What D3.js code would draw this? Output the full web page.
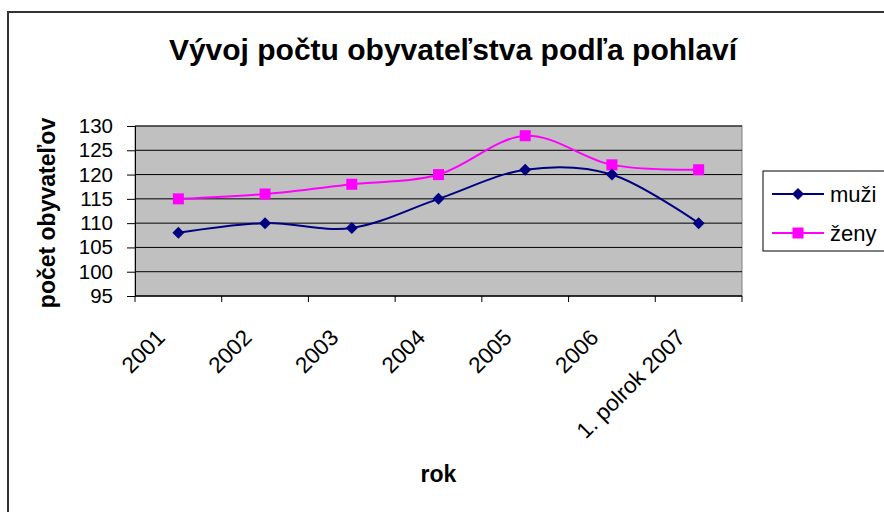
<!DOCTYPE html>
<html>
<head>
<meta charset="utf-8">
<script src="https://cdn.jsdelivr.net/npm/d3@7"></script>
<style>
  body { margin: 0; background: #fff; }
  svg text { font-family: "Liberation Sans", Arial, sans-serif; fill: #000; }
</style>
</head>
<body>
<div class="chart_container"></div>
<script>
const w = 884;
const h = 512;

const categories = ["2001", "2002", "2003", "2004", "2005", "2006", "1. polrok 2007"];
const muzi = [108, 110, 109, 115, 121, 120, 110];
const zeny = [115, 116, 118, 120, 128, 122, 121];
const yTicks = [95, 100, 105, 110, 115, 120, 125, 130];
const seriesNames = ["muži", "ženy"];

const plot = { left: 135, right: 742, top: 126, bottom: 296 };

const svg = d3.select(".chart_container").append("svg").attr("width", w).attr("height", h);

// chart frame
svg.append("rect")
  .attr("x", 8).attr("y", 12)
  .attr("width", w + 20).attr("height", h + 20)
  .attr("fill", "#fff").attr("stroke", "#333").attr("stroke-width", 2);

svg.append("text")
  .attr("x", 453).attr("y", 60)
  .attr("text-anchor", "middle")
  .style("font-size", "30px").style("font-weight", "bold")
  .text("Vývoj počtu obyvateľstva podľa pohlaví");

var xScale = d3.scaleBand().domain(categories).range([plot.left, plot.right]).padding(0);
var yScale = d3.scaleLinear().domain([95, 130]).range([plot.bottom, plot.top]);

svg.append("rect")
  .attr("x", plot.left).attr("y", plot.top)
  .attr("width", plot.right - plot.left).attr("height", plot.bottom - plot.top)
  .attr("fill", "#c0c0c0").attr("stroke", "#808080").attr("stroke-width", 1);

// gridlines
svg.append("g")
  .selectAll("line")
  .data(yTicks.slice(1))
  .enter().append("line")
  .attr("x1", plot.left).attr("x2", plot.right)
  .attr("y1", d => yScale(d)).attr("y2", d => yScale(d))
  .attr("stroke", "#000").attr("stroke-width", 1);

var yAxis = d3.axisLeft(yScale).tickValues(yTicks).tickSize(8).tickPadding(14);
var yG = svg.append("g")
  .attr("transform", "translate(" + plot.left + ",0)")
  .call(yAxis);
yG.select(".domain").attr("stroke", "#000");
yG.selectAll(".tick line").attr("stroke", "#000");
yG.selectAll(".tick text").style("font-size", "20.5px").attr("fill", "#000");

// x axis: ticks at category boundaries
svg.append("line")
  .attr("x1", plot.left).attr("x2", plot.right)
  .attr("y1", plot.bottom).attr("y2", plot.bottom)
  .attr("stroke", "#000").attr("stroke-width", 1.5);

var bounds = categories.map(c => xScale(c)).concat([plot.right]);
svg.append("g").selectAll("line")
  .data(bounds)
  .enter().append("line")
  .attr("x1", d => d).attr("x2", d => d)
  .attr("y1", plot.bottom).attr("y2", plot.bottom + 6)
  .attr("stroke", "#000");

svg.append("g").selectAll("text")
  .data(categories)
  .enter().append("text")
  .attr("transform", d => "translate(" + (xScale(d) + xScale.bandwidth() / 2 - 12) + "," + (plot.bottom + 43) + ") rotate(-45)")
  .attr("text-anchor", "end")
  .style("font-size", "22.5px")
  .text(d => d);

// axis titles
svg.append("text")
  .attr("transform", "translate(55," + ((plot.top + plot.bottom) / 2 + 2) + ") rotate(-90)")
  .attr("text-anchor", "middle")
  .style("font-size", "23px").style("font-weight", "bold")
  .text("počet obyvateľov");

svg.append("text")
  .attr("x", (plot.left + plot.right) / 2).attr("y", 482)
  .attr("text-anchor", "middle")
  .style("font-size", "23px").style("font-weight", "bold")
  .text("rok");

// lines
var line = d3.line()
  .x((d, i) => xScale(categories[i]) + xScale.bandwidth() / 2)
  .y(d => yScale(d))
  .curve(d3.curveCatmullRom.alpha(0));

var diamond = "M0,-6L6,0L0,6L-6,0Z";

svg.append("path").datum(zeny)
  .attr("d", line).attr("fill", "none")
  .attr("stroke", "#ff00ff").attr("stroke-width", 2);

svg.append("path").datum(muzi)
  .attr("d", line).attr("fill", "none")
  .attr("stroke", "#000080").attr("stroke-width", 2);

svg.append("g").selectAll("rect")
  .data(zeny)
  .enter().append("rect")
  .attr("x", (d, i) => xScale(categories[i]) + xScale.bandwidth() / 2 - 5.5)
  .attr("y", d => yScale(d) - 5.5)
  .attr("width", 11).attr("height", 11)
  .attr("fill", "#ff00ff");

svg.append("g").selectAll("path")
  .data(muzi)
  .enter().append("path")
  .attr("d", diamond)
  .attr("transform", (d, i) => "translate(" + (xScale(categories[i]) + xScale.bandwidth() / 2) + "," + yScale(d) + ")")
  .attr("fill", "#000080");

// legend
var legend = svg.append("g");
legend.append("rect")
  .attr("x", 763).attr("y", 171)
  .attr("width", 140).attr("height", 80)
  .attr("fill", "#fff").attr("stroke", "#000").attr("stroke-width", 1);

var legColors = ["#000080", "#ff00ff"];
var legY = [194, 233];
seriesNames.forEach(function (name, i) {
  legend.append("line")
    .attr("x1", 772).attr("x2", 824)
    .attr("y1", legY[i]).attr("y2", legY[i])
    .attr("stroke", legColors[i]).attr("stroke-width", 2);
  if (i === 0) {
    legend.append("path").attr("d", diamond)
      .attr("transform", "translate(798," + legY[i] + ")")
      .attr("fill", legColors[i]);
  } else {
    legend.append("rect")
      .attr("x", 798 - 5.5).attr("y", legY[i] - 5.5)
      .attr("width", 11).attr("height", 11)
      .attr("fill", legColors[i]);
  }
  legend.append("text")
    .attr("x", 830).attr("y", legY[i] + 8)
    .style("font-size", "22px")
    .text(name);
});
</script>
</body>
</html>
